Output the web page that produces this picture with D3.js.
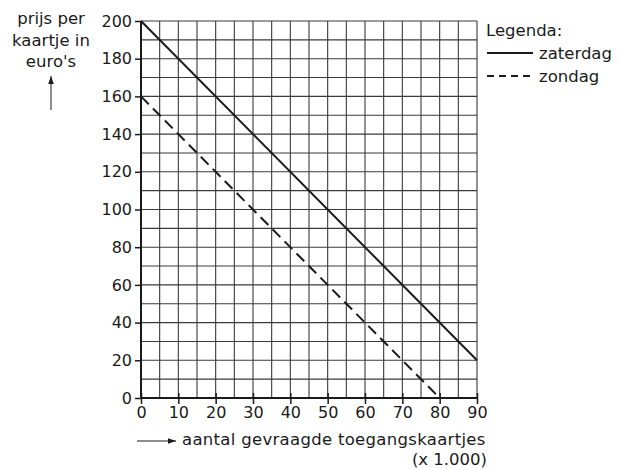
<!DOCTYPE html>
<html><head><meta charset="utf-8">
<script src="https://cdn.jsdelivr.net/npm/d3@7"></script>
<style>body{margin:0;background:#fff}svg text{font-family:"DejaVu Sans",sans-serif;fill:#1a1a1a}</style>
</head><body><svg id="c" width="618" height="469"></svg>
<script>
const xTicks = [0,10,20,30,40,50,60,70,80,90];
const yTicks = [0,20,40,60,80,100,120,140,160,180,200];
const zaterdag = [[0,200],[90,20]];
const zondag = [[0,160],[80,0]];
const series = [
  {name:"zaterdag", data:zaterdag, dash:null},
  {name:"zondag", data:zondag, dash:"11,6"}
];
const svg = d3.select("#c");
const x = d3.scaleLinear().domain([0,90]).range([141,477]);
const y = d3.scaleLinear().domain([0,200]).range([398,21]);
const g = svg.append("g");
// grid
d3.range(5,91,5).forEach(v=>g.append("line").attr("x1",x(v)).attr("x2",x(v)).attr("y1",y(0)).attr("y2",y(200)).attr("stroke","#3a3a3a").attr("stroke-width",1.1));
d3.range(10,201,10).forEach(v=>g.append("line").attr("x1",x(0)).attr("x2",x(90)).attr("y1",y(v)).attr("y2",y(v)).attr("stroke","#3a3a3a").attr("stroke-width",1.1));
// axes
const xa = svg.append("g").attr("transform",`translate(0,${y(0)})`).call(d3.axisBottom(x).tickValues(xTicks).tickSize(6).tickPadding(3));
const ya = svg.append("g").attr("transform",`translate(${x(0)},0)`).call(d3.axisLeft(y).tickValues(yTicks).tickSize(6).tickPadding(3));
[xa,ya].forEach(a=>{a.select(".domain").attr("stroke","#1a1a1a").attr("stroke-width",2);a.selectAll(".tick line").attr("stroke","#1a1a1a").attr("stroke-width",1.5);a.selectAll("text").style("font-size","16px").attr("fill","#1a1a1a");});
xa.selectAll(".tick line").attr("y1",-5);
ya.selectAll(".tick line").attr("x1",0);
xa.select(".domain").attr("d",`M${x(0)},0H${x(90)}`);
ya.select(".domain").attr("d",`M0,${y(0)}V${y(200)}`);
// lines
const line = d3.line().x(d=>x(d[0])).y(d=>y(d[1]));
series.forEach(s=>svg.append("path").attr("d",line(s.data)).attr("fill","none").attr("stroke","#1a1a1a").attr("stroke-width",2).attr("stroke-dasharray",s.dash));
// y label
const yl = ["prijs per","kaartje in","euro's"];
yl.forEach((t,i)=>svg.append("text").attr("x",51).attr("y",24+i*21.5).attr("text-anchor","middle").style("font-size","16.5px").text(t));
svg.append("defs").html('<marker id="ah" viewBox="0 0 10 10" refX="10" refY="5" markerWidth="8" markerHeight="8" orient="auto"><path d="M0,1.5L10,5L0,8.5z" fill="#1a1a1a"/></marker>');
svg.append("line").attr("x1",51).attr("y1",110).attr("x2",51).attr("y2",76).attr("stroke","#1a1a1a").attr("stroke-width",1).attr("marker-end","url(#ah)");
// x label
svg.append("line").attr("x1",137).attr("y1",441).attr("x2",176).attr("y2",441).attr("stroke","#1a1a1a").attr("stroke-width",1).attr("marker-end","url(#ah)");
svg.append("text").attr("x",182).attr("y",445).style("font-size","16.5px").style("letter-spacing","0.3px").text("aantal gevraagde toegangskaartjes");
svg.append("text").attr("x",487).attr("y",465).attr("text-anchor","end").style("font-size","16.5px").text("(x 1.000)");
// legend
svg.append("text").attr("x",486).attr("y",36).style("font-size","16.5px").text("Legenda:");
series.forEach((s,i)=>{
  const ly = 53+i*23;
  svg.append("line").attr("x1",487).attr("x2",533).attr("y1",ly).attr("y2",ly).attr("stroke","#1a1a1a").attr("stroke-width",2).attr("stroke-dasharray",s.dash?"7,5":null);
  svg.append("text").attr("x",539).attr("y",ly+6).style("font-size","16.5px").text(s.name);
});
</script></body></html>
